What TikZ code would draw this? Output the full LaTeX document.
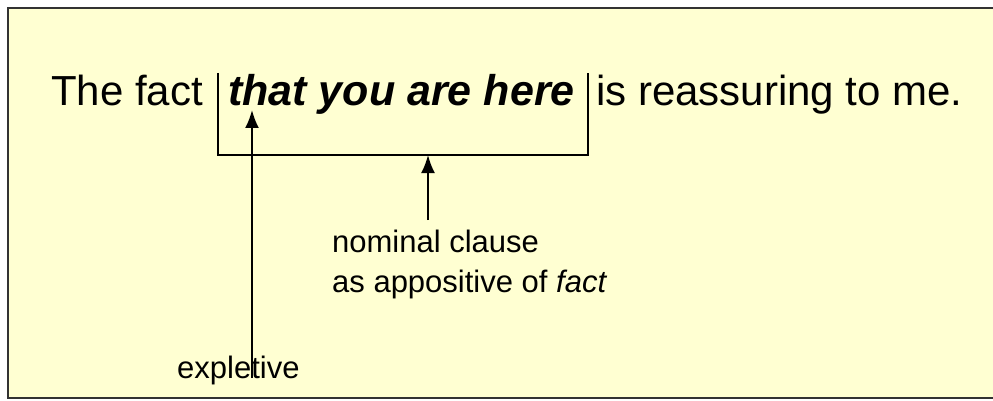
\documentclass[tikz,border=0pt]{standalone}
\usepackage{fontspec}
\setmainfont{Liberation Sans}
\usetikzlibrary{arrows.meta}
\definecolor{paper}{RGB}{255,255,210}
\definecolor{edge}{RGB}{50,50,50}
\tikzset{
  big/.style={inner sep=0pt, anchor=base west, font=\fontsize{42}{48}\selectfont},
  small/.style={inner sep=0pt, anchor=base west, font=\fontsize{31}{40}\selectfont, align=left},
  conn/.style={line width=2pt, -{Latex[length=18pt,width=14pt]}},
  brk/.style={line width=2pt}
}
\begin{document}
\begin{tikzpicture}[x=1pt,y=-1pt]
\useasboundingbox (0,0) rectangle (993,401);
\fill[white] (0,0) rectangle (993,401);
\draw[edge, line width=2.5pt, fill=paper] (8,8) rectangle (1010,398);
\node[big] (n1) at (51,106) {The fact};
\node[big] (n2) at (228,106) {\fontsize{43}{48}\selectfont\bfseries\itshape that you are here};
\node[big] (n3) at (596,106) {is reassuring to me.};
\coordinate (bl) at (218,73);
\coordinate (br) at (588,73);
\coordinate (bm) at (428,155);
\draw[brk] (bl) |- (bm) -| (br);
\node[small] (nc) at (332,252) {nominal clause};
\node[small] (ap) at (332,292) {as appositive of \itshape fact};
\node[small] (ex) at (177,378) {expletive};
\coordinate (e1) at (252,378);
\coordinate (t1) at (252,110);
\coordinate (e2) at (428,220);
\draw[conn] (e1) -- (t1);
\draw[conn] (e2) -- (bm);
\end{tikzpicture}
\end{document}
